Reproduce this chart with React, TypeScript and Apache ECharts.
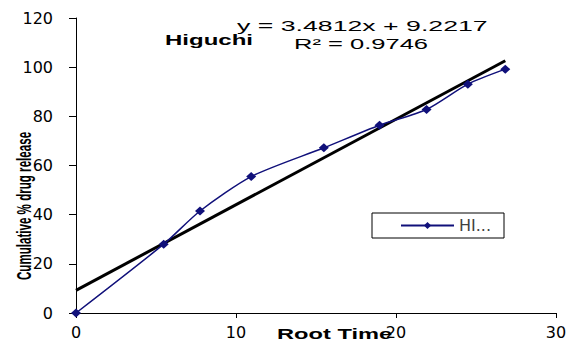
import React, { useEffect, useRef } from "react";
import * as echarts from "echarts";

// Root time (x) and cumulative % drug release (y)
const rootTime = [0, 5.48, 7.75, 10.95, 15.49, 18.97, 21.91, 24.49, 26.83];
const release = [0, 28, 41.5, 55.5, 67.2, 76.4, 82.8, 93.1, 99.2];
const slope = 3.4812;
const intercept = 9.2217;
const rSquared = 0.9746;
const seriesName = "HIGUCHI";
const legendLabel = "HI...";
const titleText = "Higuchi";
const xAxisName = "Root Time";
const yAxisName = "Cumulative % drug release";

export default function App() {
  const ref = useRef<HTMLDivElement>(null);
  useEffect(() => {
    if (!ref.current) return;
    const chart = echarts.init(ref.current, null, { renderer: "svg" });
    const xEnd = rootTime[rootTime.length - 1];
    const trend = [
      [0, intercept],
      [xEnd, slope * xEnd + intercept],
    ];
    const data = rootTime.map((x, i) => [x, release[i]]);
    const sans = "'Liberation Sans', Arial, sans-serif";
    chart.setOption({
      animation: false,
      backgroundColor: "#ffffff",
      grid: { left: 76, right: 18, top: 18, bottom: 30, containLabel: false },
      xAxis: {
        type: "value",
        min: 0,
        max: 30,
        interval: 10,
        axisLine: { show: true, lineStyle: { color: "#000", width: 1 } },
        axisTick: { show: true, length: 5, lineStyle: { color: "#000" } },
        axisLabel: {
          margin: 11,
          color: "#000",
          fontSize: 16,
          fontFamily: "'DejaVu Sans', sans-serif",
        },
        splitLine: { show: false },
      },
      yAxis: {
        type: "value",
        min: 0,
        max: 120,
        interval: 20,
        axisLine: { show: true, lineStyle: { color: "#000", width: 1 } },
        axisTick: { show: true, length: 7, lineStyle: { color: "#000" } },
        axisLabel: {
          margin: 23,
          color: "#000",
          fontSize: 16,
          fontFamily: "'DejaVu Sans', sans-serif",
        },
        splitLine: { show: false },
      },
      legend: {
        left: 372,
        top: 213,
        orient: "horizontal",
        data: [seriesName],
        formatter: () => legendLabel,
        itemWidth: 53,
        itemHeight: 9,
        padding: [4, 13, 4, 28],
        borderColor: "#000",
        borderWidth: 1,
        borderRadius: 0,
        textStyle: {
          color: "#404040",
          fontSize: 16,
          lineHeight: 17,
          fontFamily: "'DejaVu Sans', sans-serif",
        },
      },
      series: [
        {
          name: "trend",
          type: "line",
          data: trend,
          showSymbol: false,
          symbol: "none",
          lineStyle: { color: "#000", width: 3 },
          itemStyle: { color: "#000" },
          z: 2,
          silent: true,
        },
        {
          name: seriesName,
          type: "line",
          data,
          smooth: 0.25,
          symbol: "diamond",
          symbolSize: [10, 9],
          lineStyle: { color: "#10107a", width: 1.5 },
          itemStyle: { color: "#10107a" },
          z: 3,
        },
      ],
      graphic: [
        {
          type: "text",
          x: 165,
          y: 40,
          scaleX: 1.6,
          style: {
            text: titleText,
            font: `bold 15px ${sans}`,
            fill: "#000",
            align: "left",
            verticalAlign: "middle",
          },
        },
        {
          type: "text",
          x: 237,
          y: 26,
          scaleX: 1.84,
          style: {
            text: `y = ${slope}x + ${intercept}`,
            font: `14.5px ${sans}`,
            fill: "#000",
            align: "left",
            verticalAlign: "middle",
          },
        },
        {
          type: "text",
          x: 294,
          y: 44,
          scaleX: 1.76,
          style: {
            text: `R² = ${rSquared}`,
            font: `14.5px ${sans}`,
            fill: "#000",
            align: "left",
            verticalAlign: "middle",
          },
        },
        {
          type: "text",
          x: 277,
          y: 334,
          scaleX: 1.69,
          style: {
            text: xAxisName,
            font: `bold 14px ${sans}`,
            fill: "#000",
            align: "left",
            verticalAlign: "middle",
          },
        },
        {
          type: "text",
          x: 24,
          y: 206,
          rotation: Math.PI / 2,
          scaleY: 1.67,
          style: {
            text: yAxisName,
            font: `bold 11.6px ${sans}`,
            fill: "#000",
            align: "center",
            verticalAlign: "middle",
          },
        },
      ],
    });
    return () => chart.dispose();
  }, []);
  return (
    <div
      ref={ref}
      style={{ position: "fixed", left: 0, top: 0, width: 574, height: 343 }}
    />
  );
}
